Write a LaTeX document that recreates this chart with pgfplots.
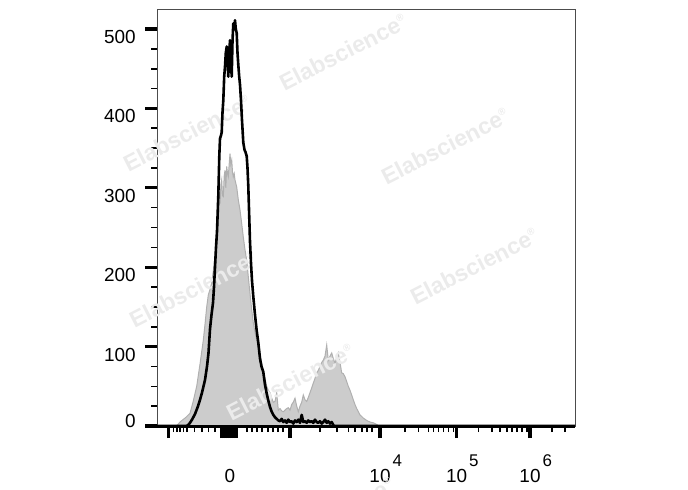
\documentclass[border=0pt]{standalone}
\usepackage{fontspec}
\setmainfont{Liberation Sans}
\usepackage{pgfplots}
\pgfplotsset{compat=1.18}
\definecolor{histfill}{HTML}{CCCCCC}
\definecolor{histedge}{HTML}{B0B0B0}
\definecolor{wm}{HTML}{EBEBEB}
\newcommand{\tenpow}[1]{10\rlap{\kern1bp\raisebox{8bp}{\fontsize{8.5}{8.5}\selectfont #1}}}
\newcommand{\wmark}{Elabscience\raisebox{5bp}{\fontsize{5}{5}\selectfont ®}}
\begin{document}
\begin{tikzpicture}
\useasboundingbox (0,0) rectangle (344bp,245bp);
\begin{axis}[
  at={(78.5bp,32bp)}, anchor=south west,
  scale only axis, width=209bp, height=208bp,
  xmin=157, xmax=575, ymin=0, ymax=524,
  clip mode=individual,
  axis line style={draw=black!70, line width=0.5bp},
  tick align=outside, tick pos=left,
  major tick length=6bp, minor tick length=3bp,
  major tick style={line width=1.6bp, black},
  minor tick style={line width=0.8bp, black},
  font=\fontsize{9.5}{11}\selectfont,
  ytick={0,100,200,300,400,500},
  yticklabels={\raisebox{6.7bp}{0},100,200,300,400,500},
  minor y tick num=3,
  yticklabel style={anchor=base east, inner sep=0pt, xshift=-4.5bp, yshift=-7.2bp},
  xtick={222,224,226,228,230,232,234,236,380,456.7,530},
  xticklabels={,,,,0,,,,{\tenpow{4}},{\tenpow{5}},{\tenpow{6}}},
  xticklabel style={anchor=base, inner sep=0pt, yshift=-22bp},
  extra x ticks={168.3,290},
  extra x tick labels={},
  minor xtick={173.3,176.7,180,183.3,186.7,194.3,201.7,208.3,215,246.7,251.7,256.7,261.7,268,273,278,283,320,336.7,348.3,355,361.7,366.7,371.7,405,418.3,428.3,433.3,438.3,443.3,448.3,453.3,478.3,491.7,500,506.7,511.7,516.7,521.7,526.7,551.7,565},
]
% gray filled histogram (control)
\addplot[fill=histfill, draw=histedge, line width=0.5bp] coordinates {
(157,0) (176,0) (178,2) (180,5) (183,8) (186,11) (190,16) (193,30) (196.7,50)
(200,78) (203.3,108) (205,128) (206.7,150) (208.3,165) (210,172) (211.7,180)
(213.3,195) (215,213) (216.7,232) (218.3,260) (219.2,295) (220,280) (221,305)
(221.7,310) (222.5,290) (223.3,289) (224.2,315) (225,322) (225.8,300) (226.7,327)
(227.5,318) (228.3,314) (229.2,330) (230,343) (230.8,330) (231.7,335) (232.5,320)
(233.3,314) (234.2,318) (235,310) (236.7,301) (238.3,285) (240,272) (241.7,255)
(243.3,238) (245,222) (246.7,209) (248.3,188) (250,167) (251.7,147) (253.3,130)
(255,118) (256.7,108) (258.3,100) (260,90) (261.7,78) (263.3,70) (265,60)
(266.7,50) (268.3,45) (270,42) (271.7,35) (273.3,30) (275,31) (276.7,42)
(278.3,20) (280,22) (281.7,19) (283.3,18) (285,20) (286.7,22) (288.3,23)
(290,20) (291.7,27) (293.3,30) (295,35) (296.7,25) (298.3,18) (300,25)
(301.7,30) (303.3,39) (305,33) (306.7,31) (308.3,36) (310,42) (311.7,48)
(313.3,54) (315,60) (316.7,67) (318.3,70) (320,75) (321.7,80) (323.3,83)
(325,88) (326.7,102) (328.3,83) (330,88) (331.7,92) (333.3,85) (335,79)
(336.7,86) (338.3,92) (340,80) (341.7,67) (343.3,66) (345,62) (346.7,56)
(348.3,50) (350,45) (351.7,39) (353.3,33) (355,27) (356.7,22) (358.3,18)
(360,14) (361.7,12) (363.3,10) (366.7,7) (370,5) (373.3,4) (376.7,2) (378.3,0)
(575,0)
} -- cycle;
% watermarks
\begin{scope}[every node/.style={rotate=27, text=wm, font=\bfseries\fontsize{11.5}{12}\selectfont}]
\node at (axis cs:343,471) {\wmark};
\node at (axis cs:445,352.6) {\wmark};
\node at (axis cs:187,369) {\wmark};
\node at (axis cs:474,201.5) {\wmark};
\node at (axis cs:193,172.5) {\wmark};
\node at (axis cs:290,55.4) {\wmark};
\node at (axis cs:330,-113) {\wmark};
\end{scope}
% black histogram (stained)
\addplot[black, line width=1.3bp, line join=round] coordinates {
(157,0) (186,0) (188,1) (190,4) (192,8) (195,15) (198,25) (200,33) (202,42)
(205,58) (207,75) (208.5,92) (210,122) (211.5,140) (213,155) (214,175) (215,200)
(216,225) (217,245) (218.3,290) (219.3,340) (220,362) (221,366) (221.7,370)
(222.5,395) (223.3,410) (224.2,440) (225,453) (225.8,470) (226.7,478) (227.5,462)
(228.3,440) (229.2,470) (230,486) (230.8,462) (231.7,440) (232.5,485) (233.3,507)
(234.2,500) (235,511) (235.8,500) (236.7,495) (237.5,470) (238.3,455) (239.2,440)
(240,430) (241,410) (242,385) (243.3,357) (244.5,348) (245.5,345) (246.7,340)
(247.5,325) (248.3,302) (249.2,265) (250,232) (251,205) (252,183) (253.3,163)
(255,140) (256.7,120) (258.3,105) (260,85) (261.5,75) (263.3,68) (265,52)
(266.7,41) (268.3,32) (270,24) (271.7,18) (273.3,14) (275,11) (276.7,9)
(278.3,7) (280,6) (281.7,9) (283.3,5) (285,7) (286.7,4) (288.3,8) (290,5)
(291.7,6) (293.3,3) (295,7) (296.7,5) (298.3,8) (300,4) (301.7,14) (303.3,5)
(305,6) (306.7,4) (308.3,7) (310,5) (311.7,6) (313.3,4) (315,8) (316.7,5)
(318.3,4) (320,6) (321.7,3) (323.3,5) (325,8) (326.7,4) (328.3,6) (330,3)
(331.7,5) (333,2) (334,0) (575,0)
};
\draw[black, line width=1.5bp] (rel axis cs:0,0) -- (rel axis cs:1,0);
\end{axis}
\end{tikzpicture}
\end{document}
